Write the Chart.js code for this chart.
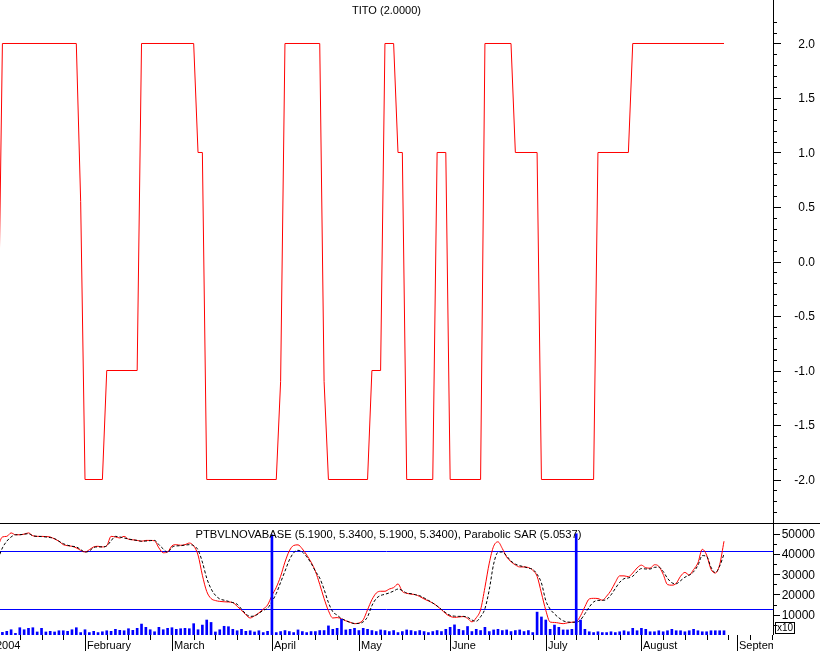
<!DOCTYPE html>
<html>
<head>
<meta charset="utf-8">
<script src="https://cdn.jsdelivr.net/npm/chart.js@4.4.1/dist/chart.umd.min.js"></script>
<style>
  html, body { margin: 0; padding: 0; background: #fff; }
  #wrap { position: relative; width: 820px; height: 652px; overflow: hidden; }
  canvas { position: absolute; left: 0; }
  #titoChart { top: 0; }
  #priceChart { top: 523px; }
</style>
</head>
<body>
<div id="wrap">
  <canvas id="titoChart" width="820" height="523"></canvas>
  <canvas id="priceChart" width="820" height="129"></canvas>
</div>
<script>
// x unit = trading day, 0 = Fri 2 Jan 2004 (exchange holidays skipped)
const monthLabels = ['2004', 'February', 'March', 'April', 'May', 'June', 'July', 'August', 'September'];
const monthStartDays = [0, 21, 41, 64, 84, 105, 127, 149, 171];
const weekStartDays = [1, 6, 11, 16, 21, 26, 31, 36, 41, 46, 51, 56, 61, 66, 70, 74, 79, 84, 89, 94,
  99, 104, 109, 114, 119, 124, 129, 134, 139, 144, 149, 154, 159, 164, 169, 174, 179];

// TITO indicator, upper panel: vertex days and values
const titoDays = [0, 1, 2, 19, 20, 21, 25, 26, 33, 34, 46, 47, 48, 49, 65, 66, 67, 75, 76, 77,
  86, 87, 89, 90, 92, 93, 94, 95, 101, 102, 104, 105, 112, 113, 119, 120, 125, 126, 138, 139,
  146, 147, 168];
const titoValues = [-2, -0.8, 2, 2, 0.55, -2, -2, -1, -1, 2, 2, 1, 1, -2, -2, -1.1, 2, 2, -1.1, -2,
  -2, -1, -1, 2, 2, 1, 1, -2, -2, 1, 1, -2, -2, 2, 2, 1, 1, -2, -2, 1,
  1, 2, 2];
const titoTicks = [-2.0, -1.5, -1.0, -0.5, 0.0, 0.5, 1.0, 1.5, 2.0];

// lower panel, one value per trading day starting at day 1 (thousands)
const priceLine = [44.0, 48.4, 48.7, 50.4, 49.5, 49.5, 49.8, 50.4, 49.0, 48.7,
  48.7, 48.6, 48.4, 47.4, 46.3, 44.6, 44.1, 43.8, 43.0, 41.8,
  41.0, 42.1, 43.5, 43.8, 43.5, 44.1, 48.7, 48.4, 47.9, 48.7,
  47.3, 47.0, 46.7, 46.3, 46.7, 46.7, 46.5, 43.0, 40.6, 41.0,
  44.0, 44.6, 44.3, 44.6, 45.4, 44.0, 39.5, 29.5, 21.5, 18.0,
  17.0, 16.6, 16.4, 16.3, 16.0, 14.2, 12.2, 10.0, 8.4, 9.5,
  10.9, 12.8, 14.8, 19.5, 23.5, 29.0, 36.0, 41.5, 44.2, 44.5,
  42.5, 39.5, 36.0, 31.5, 25.0, 18.0, 12.0, 8.4, 8.6, 8.0,
  7.0, 6.3, 5.6, 5.9, 7.5, 12.5, 17.4, 20.7, 21.6, 21.6,
  22.7, 23.4, 25.2, 21.5, 20.6, 20.2, 19.9, 19.0, 17.8, 16.8,
  15.8, 14.3, 12.5, 10.5, 9.2, 8.7, 8.9, 9.1, 8.2, 6.5,
  8.5, 12.5, 23.5, 35.5, 43.8, 46.0, 42.7, 38.5, 36.2, 34.6,
  33.6, 33.6, 33.3, 32.0, 29.0, 20.7, 12.2, 6.4, 6.2, 5.9,
  5.6, 6.0, 6.3, 6.6, 9.5, 14.0, 17.8, 18.1, 18.0, 17.2,
  19.2, 22.0, 26.0, 29.2, 29.2, 28.8, 30.6, 33.1, 34.5, 33.2,
  33.0, 34.7, 33.9, 30.0, 24.9, 24.6, 25.5, 29.0, 30.9, 29.6,
  32.3, 35.6, 42.3, 39.5, 32.5, 30.6, 34.7, 46.3];

const sarLine = [37.5, 43.0, 46.3, 48.4, 49.5, 49.5, 49.8, 50.0, 49.0, 48.7,
  48.6, 48.4, 48.1, 47.6, 46.3, 45.1, 44.3, 43.8, 43.5, 42.2,
  40.9, 41.5, 43.2, 43.5, 43.5, 44.0, 46.5, 48.7, 48.4, 47.9,
  47.4, 47.0, 46.7, 46.3, 46.4, 46.6, 46.7, 44.6, 42.5, 40.8,
  43.3, 44.0, 44.1, 44.4, 44.6, 44.1, 42.0, 36.0, 28.1, 22.8,
  19.6, 17.8, 17.2, 16.6, 16.0, 15.2, 12.8, 10.4, 9.2, 9.4,
  10.7, 12.2, 13.2, 16.5, 20.5, 26.0, 31.5, 37.0, 40.6, 41.8,
  41.0, 38.6, 35.5, 31.5, 28.1, 22.5, 16.0, 11.5, 9.8, 8.1,
  7.1, 6.2, 5.7, 5.7, 6.5, 9.0, 14.5, 18.0, 19.5, 20.1,
  20.8, 21.7, 22.7, 22.0, 20.7, 20.4, 19.9, 19.4, 18.3, 17.1,
  15.8, 14.3, 12.6, 11.0, 9.7, 9.3, 9.2, 9.2, 8.8, 7.4,
  6.8, 9.0, 13.0, 22.4, 35.0, 40.8, 41.0, 39.0, 36.5, 35.0,
  34.2, 33.7, 33.0, 32.4, 30.0, 25.7, 17.0, 12.8, 10.4, 8.5,
  7.0, 6.4, 6.3, 6.3, 7.5, 10.5, 13.8, 16.3, 17.1, 17.1,
  17.6, 19.8, 23.0, 26.0, 27.8, 28.2, 29.0, 31.2, 32.8, 32.6,
  32.6, 33.4, 33.5, 31.4, 28.0, 25.8, 25.3, 26.8, 28.5, 29.6,
  31.2, 34.4, 39.2, 38.8, 33.5, 30.8, 34.0, 40.0];

const volume = [1.0, 1.3, 1.8, 2.6, 0.8, 3.6, 2.6, 3.3, 3.6, 1.5,
  3.3, 1.5, 1.8, 1.5, 2.1, 2.1, 1.8, 2.6, 3.6, 1.2,
  2.6, 1.2, 1.8, 1.2, 1.6, 2.1, 1.8, 2.8, 2.3, 2.1,
  3.1, 2.3, 3.3, 5.4, 3.8, 2.6, 1.6, 3.8, 2.6, 3.3,
  3.6, 2.8, 3.1, 3.3, 3.1, 5.6, 2.6, 4.9, 7.4, 6.2,
  1.5, 2.6, 4.3, 4.1, 2.8, 2.1, 2.8, 1.8, 2.1, 1.5,
  2.1, 1.2, 1.8, 49.5, 1.2, 1.7, 2.2, 1.7, 1.2, 2.5,
  1.7, 1.2, 1.7, 1.7, 2.2, 2.2, 4.5, 2.8, 3.3, 7.8,
  2.5, 2.8, 3.3, 2.2, 3.3, 2.8, 2.2, 1.7, 2.5, 2.2,
  1.7, 2.2, 1.2, 1.7, 2.5, 2.2, 1.7, 2.2, 1.7, 1.2,
  1.7, 2.2, 1.7, 2.8, 3.8, 5.0, 2.8, 2.2, 4.2, 1.7,
  2.8, 2.2, 3.8, 1.7, 2.5, 2.8, 2.2, 2.5, 1.7, 2.2,
  2.5, 1.7, 2.2, 1.2, 11.3, 8.9, 7.4, 2.8, 4.9, 3.8,
  2.5, 2.5, 2.8, 50.0, 7.4, 2.8, 1.6, 1.2, 1.6, 1.2,
  1.2, 1.6, 1.2, 1.6, 2.1, 1.6, 3.3, 2.1, 3.3, 2.8,
  1.6, 1.6, 2.1, 1.6, 2.1, 2.8, 2.1, 2.1, 1.6, 2.1,
  2.8, 2.1, 1.6, 1.6, 2.1, 2.1, 2.1, 2.1];

const priceTicks = [10000, 20000, 30000, 40000, 50000];
const bandLevels = [41300, 12800];

// visible day range
const X_MIN = 1.445;
const X_MAX = 179.27;
const FONT = '"Liberation Sans", Arial, sans-serif';

const crisp = v => Math.round(v) + 0.5;
function seg(ctx, x1, y1, x2, y2) {
  ctx.beginPath();
  ctx.moveTo(x1, y1);
  ctx.lineTo(x2, y2);
  ctx.stroke();
}

// right axis + title of the TITO panel
const titoDecor = {
  id: 'titoDecor',
  afterDraw(chart) {
    const { ctx, chartArea: a, scales: { y } } = chart;
    ctx.save();
    ctx.strokeStyle = '#000';
    ctx.lineWidth = 1;
    seg(ctx, a.right + 0.5, 0, a.right + 0.5, chart.height);
    for (let i = -23; i <= 22; i++) {
      const py = crisp(y.getPixelForValue(i / 10));
      seg(ctx, a.right, py, a.right + (i % 5 === 0 ? 8 : 4), py);
    }
    ctx.fillStyle = '#000';
    ctx.font = '12px ' + FONT;
    ctx.textAlign = 'right';
    ctx.textBaseline = 'middle';
    titoTicks.forEach(v => ctx.fillText(v.toFixed(1), 815, y.getPixelForValue(v) + 1));
    ctx.font = '11px ' + FONT;
    ctx.textAlign = 'center';
    ctx.textBaseline = 'alphabetic';
    ctx.fillText('TITO (2.0000)', (a.left + a.right) / 2, 14);
    ctx.restore();
  }
};

// bands, right axis, date axis and title of the lower panel
const priceDecor = {
  id: 'priceDecor',
  beforeDatasetsDraw(chart) {
    const { ctx, chartArea: a, scales: { y } } = chart;
    ctx.save();
    ctx.strokeStyle = 'rgb(0, 0, 255)';
    ctx.lineWidth = 1;
    bandLevels.forEach(v => {
      const py = crisp(y.getPixelForValue(v));
      seg(ctx, a.left, py, a.right, py);
    });
    ctx.restore();
  },
  afterDraw(chart) {
    const { ctx, chartArea: a, scales: { x, y } } = chart;
    ctx.save();
    ctx.strokeStyle = '#000';
    ctx.fillStyle = '#000';
    ctx.lineWidth = 1;
    seg(ctx, 0, 0.5, chart.width, 0.5);
    seg(ctx, a.right + 0.5, 0, a.right + 0.5, a.bottom);

    for (let v = 5000; v <= 50000; v += 5000) {
      const py = crisp(y.getPixelForValue(v));
      seg(ctx, a.right, py, a.right + (v % 10000 === 0 ? 7 : 4), py);
    }
    ctx.font = '12px ' + FONT;
    ctx.textAlign = 'right';
    ctx.textBaseline = 'middle';
    priceTicks.forEach(v => ctx.fillText(String(v), 815, y.getPixelForValue(v) + 1));

    // date axis, clipped at the right edge of the plot
    ctx.save();
    ctx.beginPath();
    ctx.rect(0, a.bottom, a.right, chart.height - a.bottom);
    ctx.clip();
    weekStartDays.forEach(d => {
      const px = crisp(x.getPixelForValue(d));
      seg(ctx, px, a.bottom, px, a.bottom + 5);
    });
    ctx.font = '11px ' + FONT;
    ctx.textAlign = 'left';
    ctx.textBaseline = 'alphabetic';
    monthStartDays.forEach((d, i) => {
      const px = crisp(x.getPixelForValue(d));
      seg(ctx, px, a.bottom, px, a.bottom + 16);
      ctx.fillText(monthLabels[i], px + 1.5, a.bottom + 14);
    });
    ctx.restore();

    // volume multiplier box
    ctx.strokeRect(775.5, a.bottom - 12.5, 19, 11);
    ctx.font = '10px ' + FONT;
    ctx.textAlign = 'left';
    ctx.textBaseline = 'alphabetic';
    ctx.fillText('x10', 777, a.bottom - 4);

    ctx.font = '11.2px ' + FONT;
    ctx.textAlign = 'center';
    ctx.fillText('PTBVLNOVABASE (5.1900, 5.3400, 5.1900, 5.3400), Parabolic SAR (5.0537)',
      (a.left + a.right) / 2 + 2, 15);
    ctx.restore();
  }
};

new Chart(document.getElementById('titoChart'), {
  type: 'line',
  data: {
    datasets: [{
      data: titoDays.map((d, i) => ({ x: d, y: titoValues[i] })),
      borderColor: '#ff0000',
      borderWidth: 1,
      pointRadius: 0,
      tension: 0
    }]
  },
  options: {
    responsive: false,
    animation: false,
    devicePixelRatio: 1,
    layout: { padding: { left: 0, right: 47, top: 0, bottom: 0 } },
    scales: {
      x: { type: 'linear', display: false, min: X_MIN, max: X_MAX },
      y: { display: false, min: -2.39908, max: 2.39908 }
    },
    plugins: { legend: { display: false }, tooltip: { enabled: false } }
  },
  plugins: [titoDecor]
});

new Chart(document.getElementById('priceChart'), {
  type: 'line',
  data: {
    datasets: [
      {
        type: 'bar',
        data: volume.map((v, i) => ({ x: i + 1, y: v * 1000 })),
        backgroundColor: '#0000ff',
        borderWidth: 0,
        barThickness: 2,
        order: 0
      },
      {
        data: sarLine.map((v, i) => ({ x: i + 1, y: v * 1000 })),
        borderColor: '#000000',
        borderWidth: 1,
        borderDash: [3, 2],
        pointRadius: 0,
        cubicInterpolationMode: 'monotone',
        order: 1
      },
      {
        data: priceLine.map((v, i) => ({ x: i + 1, y: v * 1000 })),
        borderColor: '#ff0000',
        borderWidth: 1,
        pointRadius: 0,
        cubicInterpolationMode: 'monotone',
        order: 2
      }
    ]
  },
  options: {
    responsive: false,
    animation: false,
    devicePixelRatio: 1,
    layout: { padding: { left: 0, right: 47, top: 0, bottom: 17 } },
    scales: {
      x: { type: 'linear', display: false, offset: false, min: X_MIN, max: X_MAX },
      y: { display: false, min: 0, max: 55300 }
    },
    plugins: { legend: { display: false }, tooltip: { enabled: false } }
  },
  plugins: [priceDecor]
});
</script>
</body>
</html>
